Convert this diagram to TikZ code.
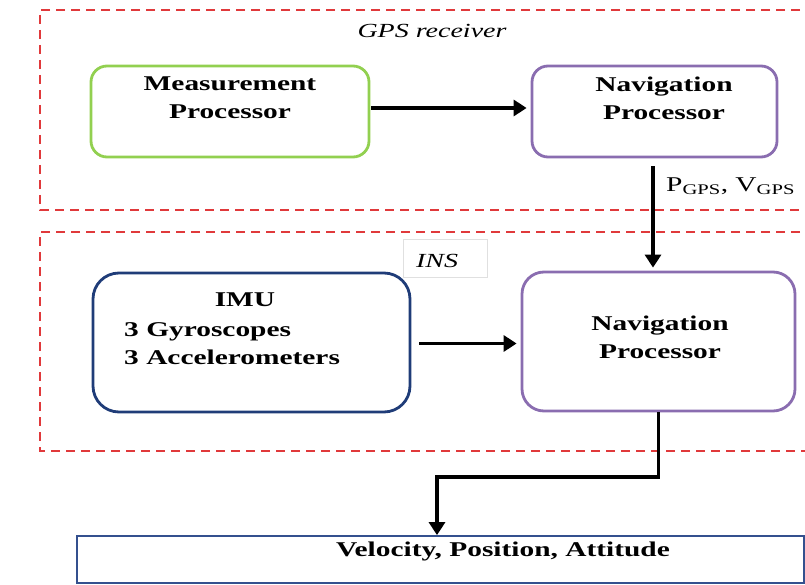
\documentclass[tikz,border=0pt]{standalone}
\usepackage{fontspec}
\setmainfont{Liberation Serif}[FakeStretch=1.4]
\usetikzlibrary{arrows.meta}
\definecolor{mgreen}{HTML}{92D050}
\definecolor{mpurple}{HTML}{8A6DB0}
\definecolor{mnavy}{HTML}{1F3C78}
\definecolor{mred}{HTML}{E0393B}
\definecolor{mout}{HTML}{34508E}
\tikzset{
  grp/.style={draw=mred, line width=2.4pt, dash pattern=on 9pt off 6pt},
  procbox/.style={draw=#1, line width=2.8pt, rounded corners=16pt, fill=white},
  btext/.style={font=\fontsize{21}{28}\selectfont\bfseries, align=center, inner sep=0pt},
  itext/.style={font=\fontsize{20}{24}\selectfont\itshape, inner sep=0pt},
  flow/.style={line width=3.8pt, -{Triangle[length=13pt,width=16pt]}},
}
\begin{document}
\begin{tikzpicture}[x=1pt,y=-1pt]
\useasboundingbox (0,0) rectangle (805,585);
% group frames
\draw[grp] (815,10) -- (40,10) -- (40,210) -- (815,210);
\draw[grp] (815,232) -- (40,232) -- (40,451) -- (815,451);
\node[itext] (gpsl) at (432,31) {GPS receiver};
\node[draw=black!12, line width=0.6pt, fill=white, minimum width=84pt, minimum height=38pt, inner sep=0pt] (insbox) at (445,258) {};
\node[itext] (insl) at (437,261) {INS};
% boxes
\node[procbox=mgreen, minimum width=278pt, minimum height=91pt] (meas) at (230,111.5) {};
\node[procbox=mpurple, minimum width=245pt, minimum height=91pt] (nav1) at (654.5,111.5) {};
\node[procbox=mnavy, rounded corners=26pt, minimum width=317pt, minimum height=139pt] (imu) at (251.5,342.5) {};
\node[procbox=mpurple, rounded corners=22pt, minimum width=273pt, minimum height=139pt] (nav2) at (658.5,341.5) {};
\node[draw=mout, line width=1.8pt, fill=white, minimum width=727pt, minimum height=47pt, inner sep=0pt] (out) at (440.5,559.5) {};
% texts
\node[btext] (measT) at (230,98) {Measurement\\Processor};
\node[btext] (nav1T) at (664,98) {Navigation\\Processor};
\node[btext] (imuT) at (245,300) {IMU};
\node[btext, anchor=west, align=left] (imuL) at (124,343.5) {3 Gyroscopes\\3 Accelerometers};
\node[btext] (nav2T) at (660,337) {Navigation\\Processor};
\node[btext] (outT) at (503,551) {Velocity, Position, Attitude};
\node[font=\fontsize{21}{24}\selectfont, anchor=west, inner sep=0pt] (gpsv) at (666,186) {P\textsubscript{GPS}, V\textsubscript{GPS}};
% connectors
\draw[flow, shorten <=1pt, shorten >=4pt] ([yshift=3.5pt]meas.east) -- ([yshift=3.5pt]meas.east -| nav1.west);
\draw[flow, shorten <=8pt, shorten >=3pt] ([xshift=-1.5pt]nav1.south) -- ([xshift=-1.5pt]nav1.south |- nav2.north);
\draw[flow, shorten <=8pt, shorten >=4pt] ([yshift=-1pt]imu.east) -- ([yshift=-1pt]imu.east -| nav2.west);
\coordinate (turn) at (437,477);
\draw[flow, rounded corners=0pt] (nav2.south) |- (turn) -- (turn |- out.north);
\end{tikzpicture}
\end{document}
